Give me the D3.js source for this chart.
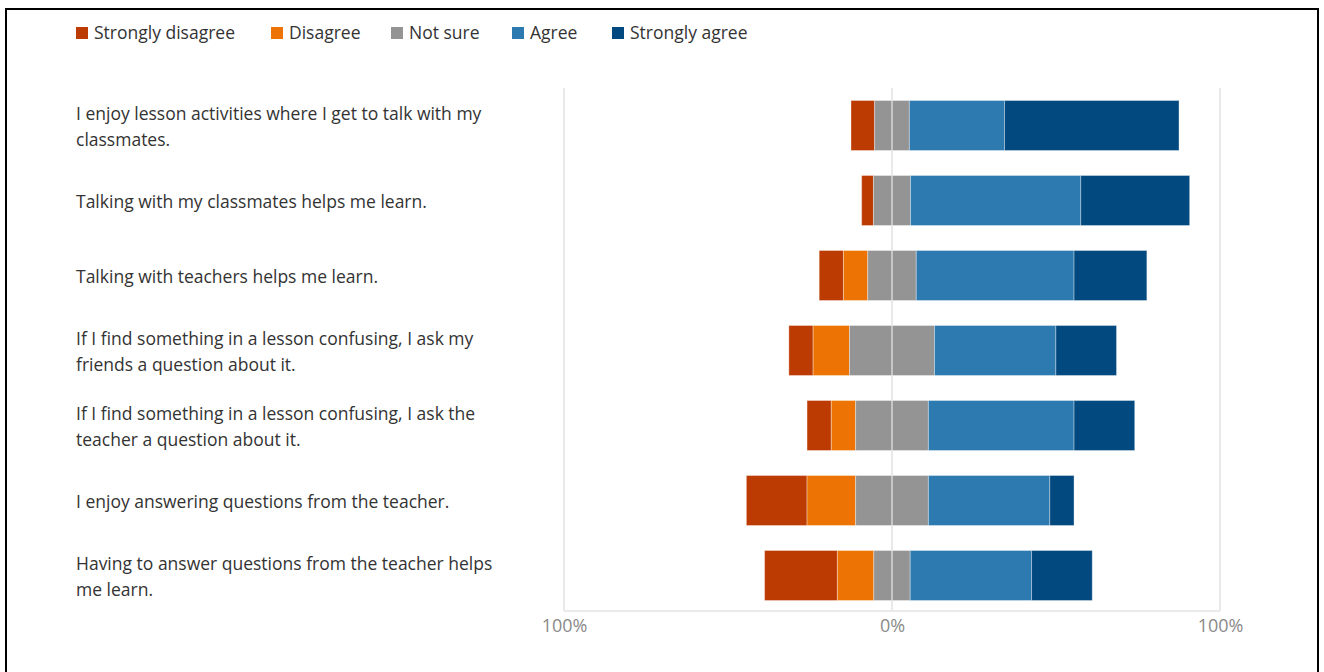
<!DOCTYPE html>
<html>
<head>
<meta charset="utf-8">
<script src="https://cdn.jsdelivr.net/npm/d3@7"></script>
<style>
  html, body { margin: 0; padding: 0; background: #fff; }
  svg { display: block; font-family: "Open Sans", "Noto Sans", sans-serif; }
</style>
</head>
<body>
<div id="chart"></div>
<script>
// Data
const questions = [
  "I enjoy lesson activities where I get to talk with my classmates.",
  "Talking with my classmates helps me learn.",
  "Talking with teachers helps me learn.",
  "If I find something in a lesson confusing, I ask my friends a question about it.",
  "If I find something in a lesson confusing, I ask the teacher a question about it.",
  "I enjoy answering questions from the teacher.",
  "Having to answer questions from the teacher helps me learn."
];
const levels = ["Strongly disagree", "Disagree", "Not sure", "Agree", "Strongly agree"];
const colours = ["#bb3b02", "#ec7304", "#949494", "#2c7ab0", "#02497f"];
const stronglyDisagree = [7.2, 3.6, 7.4, 7.4, 7.4, 18.5, 22.2];
const disagree = [0, 0, 7.4, 11.1, 7.4, 14.8, 11.1];
const notSure = [10.6, 11.3, 14.8, 25.9, 22.2, 22.2, 11.1];
const agree = [29.0, 51.9, 48.1, 37.0, 44.4, 37.0, 37.0];
const stronglyAgree = [53.2, 33.2, 22.2, 18.5, 18.5, 7.4, 18.5];
const tickValues = [-100, 0, 100];

const W = 1324, H = 672;
const margin = {left: 564, right: 104, top: 88, bottom: 60};

const svg = d3.select("#chart").append("svg")
  .attr("width", W).attr("height", H);

// frame
svg.append("rect")
  .attr("x", 6).attr("y", 9).attr("width", 1312).attr("height", 700)
  .attr("fill", "none").attr("stroke", "#000").attr("stroke-width", 2);

const x = d3.scaleLinear().domain([-100, 100]).range([margin.left, W - margin.right]);
const y = d3.scaleBand().domain(questions).range([margin.top, margin.top + 7 * 75]).paddingInner(1/3).paddingOuter(1/6);

// rows of segments: neutral is centred on zero
const series = [stronglyDisagree, disagree, notSure, agree, stronglyAgree];
const segments = [];
questions.forEach((q, i) => {
  let start = -(stronglyDisagree[i] + disagree[i] + notSure[i] / 2);
  series.forEach((s, k) => {
    segments.push({q: q, k: k, x0: start, x1: start + s[i]});
    start += s[i];
  });
});

// grid frame
const plotBottom = margin.top + 7 * 75 - 2;
svg.append("g").selectAll("line").data(tickValues).join("line")
  .attr("x1", d => x(d)).attr("x2", d => x(d))
  .attr("y1", margin.top).attr("y2", plotBottom)
  .attr("stroke", "#e3e3e3").attr("stroke-width", 1.5);
svg.append("line")
  .attr("x1", x(-100)).attr("x2", x(100))
  .attr("y1", plotBottom).attr("y2", plotBottom)
  .attr("stroke", "#e3e3e3").attr("stroke-width", 1.5);

// bars
svg.append("g").selectAll("rect").data(segments.filter(d => d.x1 > d.x0)).join("rect")
  .attr("x", d => x(d.x0))
  .attr("y", d => y(d.q))
  .attr("width", d => x(d.x1) - x(d.x0))
  .attr("height", y.bandwidth())
  .attr("fill", d => colours[d.k])
  .attr("stroke", "rgba(255,255,255,0.35)")
  .attr("stroke-width", 1);

// zero line over bars
svg.append("line")
  .attr("x1", x(0)).attr("x2", x(0))
  .attr("y1", margin.top).attr("y2", plotBottom)
  .attr("stroke", "#e8e8e8").attr("stroke-opacity", 0.8).attr("stroke-width", 1.5);

// axis labels
const xAxis = d3.axisBottom(x).tickValues(tickValues)
  .tickFormat(d => Math.abs(d) + "%").tickSize(0).tickPadding(8);
const ax = svg.append("g").attr("transform", `translate(0,${plotBottom})`).call(xAxis);
ax.select(".domain").remove();
ax.selectAll("text").attr("fill", "#8a8a8a").style("font-size", "18px")
  .style("font-family", "'Open Sans', sans-serif");

// category labels, wrapped
const labelFont = "17.5px 'Open Sans'";
const ctx = document.createElement("canvas").getContext("2d");
ctx.font = labelFont;
function wrap(text, width) {
  const words = text.split(" ");
  const lines = [];
  let line = "";
  for (let w of words) {
    const test = line ? line + " " + w : w;
    if (ctx.measureText(test).width > width && line) {
      lines.push(line);
      line = w;
    } else {
      line = test;
    }
  }
  lines.push(line);
  return lines;
}
const labels = svg.append("g").selectAll("text").data(questions).join("text")
  .attr("x", 76)
  .attr("fill", "#333")
  .style("font-size", "17.5px");
labels.each(function(q) {
  const lines = wrap(q, 430);
  const cy = y(q) + y.bandwidth() / 2;
  const t = d3.select(this);
  lines.forEach((ln, i) => {
    t.append("tspan")
      .attr("x", 76)
      .attr("y", cy + 1 + (i - (lines.length - 1) / 2) * 26)
      .attr("dy", "0.35em")
      .text(ln);
  });
});

// legend
const legendX = [76, 271, 391, 512, 612];
const legend = svg.append("g").selectAll("g").data(levels).join("g")
  .attr("transform", (d, i) => `translate(${legendX[i]},33)`);
legend.append("rect")
  .attr("x", 0).attr("y", -6).attr("width", 12).attr("height", 12)
  .attr("fill", (d, i) => colours[i]);
legend.append("text")
  .attr("x", 18).attr("dy", "0.35em")
  .attr("fill", "#333")
  .style("font-size", "17.5px")
  .text(d => d);
</script>
</body>
</html>
